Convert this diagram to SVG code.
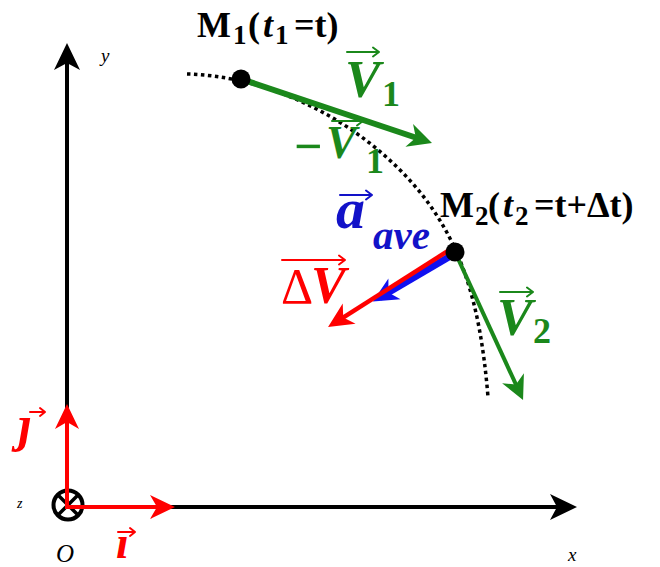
<svg xmlns="http://www.w3.org/2000/svg" width="660" height="567" viewBox="0 0 660 567">
<style>
.ax{stroke:#000;stroke-width:4;fill:none}
.lbl{font-family:"Liberation Serif","DejaVu Serif",serif;font-weight:bold}
.it{font-style:italic}
.sm{font-family:"Liberation Serif","DejaVu Serif",serif;font-style:italic;fill:#000}
.ov{fill:none;stroke-width:2;stroke-linecap:round;stroke-linejoin:round}
.g{fill:#1b881b}
.r{fill:#ff0000}
.b{fill:#1212c8}
</style>
<defs>
<marker id="mk" viewBox="-28 -14 29 28" markerWidth="29" markerHeight="28" refX="-8" refY="0" orient="auto" markerUnits="userSpaceOnUse"><path d="M0,0 L-27,-13 L-20,0 L-27,13 Z" fill="#000"/></marker>
<marker id="mr" viewBox="-26 -13 27 26" markerWidth="27" markerHeight="26" refX="-8" refY="0" orient="auto" markerUnits="userSpaceOnUse"><path d="M0,0 L-25,-12 L-18,0 L-25,12 Z" fill="#ff0000"/></marker>
<marker id="mg" viewBox="-26 -13 27 26" markerWidth="27" markerHeight="26" refX="-8" refY="0" orient="auto" markerUnits="userSpaceOnUse"><path d="M0,0 L-24,-12 L-17,0 L-24,12 Z" fill="#1b881b"/></marker>
<marker id="mb" viewBox="-26 -13 27 26" markerWidth="27" markerHeight="26" refX="-8" refY="0" orient="auto" markerUnits="userSpaceOnUse"><path d="M0,0 L-25,-12 L-18,0 L-25,12 Z" fill="#1010f0"/></marker>
</defs>

<g id="axes">
<line class="ax" x1="67" y1="509" x2="67" y2="51" marker-end="url(#mk)"/>
<line class="ax" x1="65" y1="507" x2="569" y2="507" marker-end="url(#mk)"/>
<g id="origin">
<circle cx="68" cy="505" r="14.5" fill="none" stroke="#000" stroke-width="4"/>
<path d="M58,495 L78,515 M78,495 L58,515" stroke="#000" stroke-width="3.5"/>
</g>
<text class="sm" x="101" y="62" font-size="19">y</text>
<text class="sm" x="568" y="561" font-size="19">x</text>
<text class="sm" x="17" y="508" font-size="14">z</text>
<text class="sm" x="56" y="562" font-size="25">O</text>
</g>

<g id="unit-vectors">
<line x1="67" y1="509" x2="67" y2="412" stroke="#ff0000" stroke-width="4" marker-end="url(#mr)"/>
<line x1="66" y1="507" x2="167" y2="507" stroke="#ff0000" stroke-width="4" marker-end="url(#mr)"/>
<text class="lbl it r" x="18" y="441" font-size="50">ȷ</text>
<path class="ov" stroke="#ff0000" d="M30,412 L45,412 M40,408 L45,412 L40,416"/>
<text class="lbl it r" x="116" y="558" font-size="46">ı</text>
<path class="ov" stroke="#ff0000" d="M118,532 L135,532 M130,528 L135,532 L130,536"/>
</g>

<g id="trajectory">
<path d="M187,74 C260,76 340,110 400,170 C460,230 480,300 488,397" fill="none" stroke="#000" stroke-width="3.5" stroke-dasharray="3.5,3.5"/>
</g>

<g id="connectors">
<line id="v1" x1="241" y1="79" x2="424.4" y2="140.5" stroke="#1b881b" stroke-width="6" marker-end="url(#mg)"/>
<line id="v2" x1="455" y1="252" x2="519.7" y2="392.7" stroke="#1b881b" stroke-width="4" marker-end="url(#mg)"/>
<line id="aave" x1="454" y1="254" x2="379.8" y2="297.5" stroke="#1010f0" stroke-width="7" marker-end="url(#mb)"/>
<line id="dv" x1="451" y1="249" x2="334.8" y2="322.8" stroke="#ff0000" stroke-width="4.5" marker-end="url(#mr)"/>
</g>

<g id="M1">
<circle cx="241" cy="79" r="9.5" fill="#000"/>
<text class="lbl" font-size="36" fill="#000" y="37"><tspan x="197">M</tspan><tspan x="233" y="44" font-size="27">1</tspan><tspan x="248" y="37">(</tspan><tspan x="263" class="it">t</tspan><tspan x="275" y="44" font-size="27">1</tspan><tspan x="294" y="37">=t)</tspan></text>
</g>

<g id="M2">
<circle cx="455" cy="252" r="9.5" fill="#000"/>
<text class="lbl" font-size="36" fill="#000" y="217"><tspan x="440">M</tspan><tspan x="475" y="225" font-size="27">2</tspan><tspan x="488" y="217">(</tspan><tspan x="503" class="it">t</tspan><tspan x="515" y="225" font-size="27">2</tspan><tspan x="534" y="217">=t+Δt)</tspan></text>
</g>

<g id="label-V1">
<text class="lbl it g" font-size="53" y="97"><tspan x="345">V</tspan><tspan x="382" y="106" font-size="36" font-style="normal">1</tspan></text>
<path class="ov" stroke="#1b881b" d="M347,52 L379,52 M373,47.5 L379,52 L373,56.5"/>
</g>

<g id="label-minusV1">
<text class="lbl g" font-size="50" x="294" y="163">−</text>
<text class="lbl it g" font-size="46" y="158"><tspan x="326">V</tspan><tspan x="366" y="173" font-size="36" font-style="normal">1</tspan></text>
<path class="ov" stroke="#1b881b" d="M332,121 L363,121 M357,116.5 L363,121 L357,125.5"/>
</g>

<g id="label-aave">
<text class="lbl it b" font-size="58" y="228"><tspan x="336">a</tspan><tspan x="373" y="249" font-size="41">ave</tspan></text>
<path class="ov" stroke="#1212c8" d="M340,195 L372,195 M366,190.5 L372,195 L366,199.5"/>
</g>

<g id="label-dV">
<text font-family="Liberation Serif, DejaVu Serif, serif" class="r" font-size="50" x="281" y="303">Δ</text>
<text class="lbl it r" font-size="52" x="311" y="303">V</text>
<path class="ov" stroke="#ff0000" d="M282,260 L345,260 M339,255.5 L345,260 L339,264.5"/>
</g>

<g id="label-V2">
<text class="lbl it g" font-size="53" y="335"><tspan x="497">V</tspan><tspan x="533" y="343" font-size="36" font-style="normal">2</tspan></text>
<path class="ov" stroke="#1b881b" d="M500,292 L533,292 M527,287.5 L533,292 L527,296.5"/>
</g>
</svg>
